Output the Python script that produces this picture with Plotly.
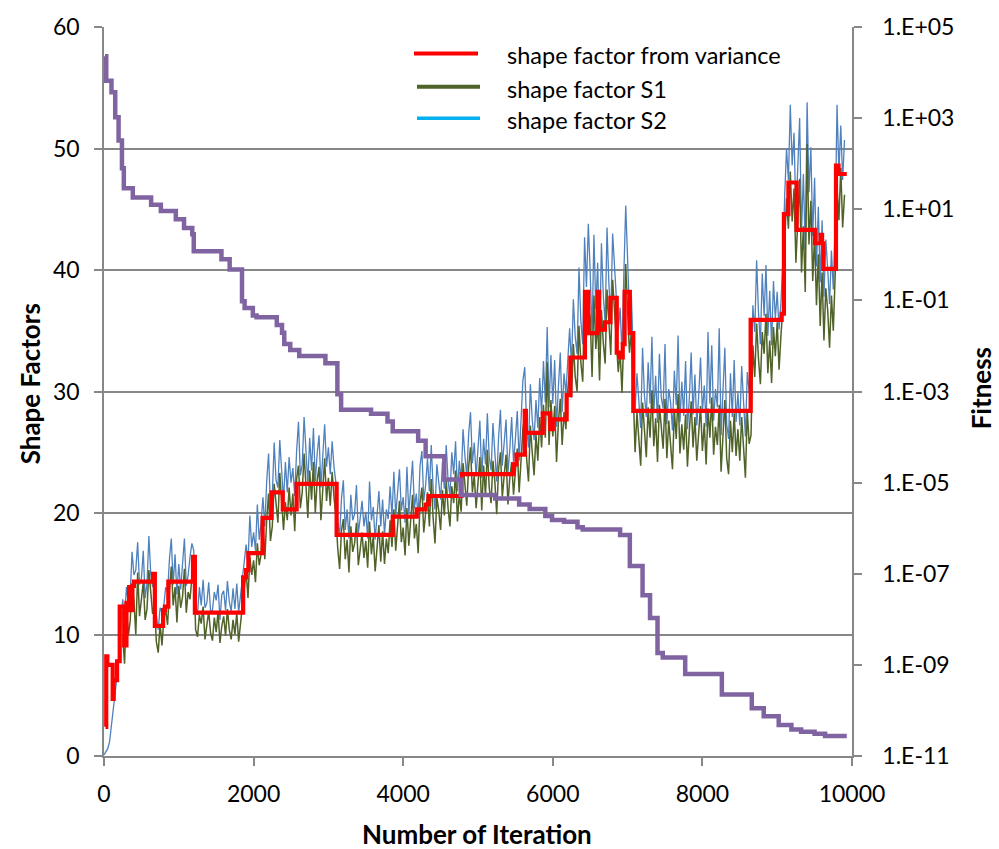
import plotly.graph_objects as go

# ---------------- data ----------------
# noisy shape factors sampled every 25 iterations
iter_s = list(range(0, 9901, 25))

s2_vals = [
    0.1, 0.3, 0.6, 1.2, 2.5, 4.0, 5.2, 6.6, 8.5, 10.5, 12.9, 11.4, 13.9, 12.6, 13.2, 16.8, 14.9, 15.3, 17.6, 14.1,
    14.6, 16.9, 13.0, 14.2, 18.1, 15.0, 13.9, 14.8, 11.6, 10.4, 12.2, 11.8, 12.4, 13.9, 13.5, 16.2, 17.9, 14.1, 16.6, 13.3,
    15.8, 13.7, 15.6, 17.9, 14.0, 14.9, 16.4, 17.5, 16.9, 12.5, 11.6, 13.9, 12.4, 14.5, 12.2, 12.6, 14.3, 11.9, 12.0, 13.5,
    12.8, 14.1, 11.2, 13.3, 13.6, 12.0, 14.4, 12.7, 11.9, 13.8, 12.1, 14.2, 11.8, 13.0, 14.6, 16.0, 17.4, 15.9, 19.8, 17.2,
    18.4, 16.9, 20.7, 17.8, 19.2, 21.3, 18.9, 22.6, 24.9, 20.6, 21.4, 25.8, 22.7, 22.1, 26.0, 23.5, 21.0, 24.2, 21.7, 24.6,
    22.5, 23.7, 21.4, 25.1, 27.5, 23.1, 24.0, 27.9, 24.8, 22.4, 26.2, 23.5, 27.0, 22.6, 24.9, 26.4, 22.1, 24.6, 27.3, 23.8,
    25.4, 23.2, 25.9, 23.8, 22.5, 19.3, 18.1, 21.2, 22.7, 18.6, 20.3, 17.9, 21.5, 19.4, 19.9, 22.3, 18.3, 19.6, 21.0, 18.9,
    20.1, 17.9, 22.6, 19.4, 20.5, 17.8, 19.6, 21.8, 18.9, 21.1, 18.2, 20.3, 19.5, 22.2, 19.7, 23.4, 19.8, 21.6, 23.6, 20.2,
    21.3, 19.2, 23.8, 19.9, 22.4, 24.3, 20.4, 21.6, 19.6, 23.9, 25.1, 21.0, 22.3, 24.5, 21.8, 25.6, 22.0, 20.3, 24.0, 22.7,
    21.1, 24.2, 22.0, 25.6, 22.7, 21.4, 25.0, 23.2, 25.9, 21.8, 24.3, 22.6, 26.9, 24.7, 23.0, 26.5, 28.3, 24.1, 25.8, 23.0,
    25.3, 27.6, 22.9, 26.1, 24.0, 28.2, 24.6, 23.5, 27.4, 24.9, 22.6, 26.2, 28.5, 23.9, 25.5, 27.7, 23.3, 25.2, 27.9, 24.1,
    26.1, 28.4, 24.3, 27.2, 30.9, 32.0, 27.1, 25.4, 30.6, 27.7, 26.0, 29.3, 27.0, 31.1, 28.2, 32.5, 29.1, 35.3, 28.7, 33.0,
    29.0, 32.6, 27.1, 30.4, 33.2, 28.3, 31.5, 29.8, 33.0, 35.2, 32.1, 37.6, 34.5, 33.1, 40.2, 35.8, 33.9, 42.7, 38.6, 43.8,
    39.8, 34.6, 42.9, 36.8, 40.6, 33.4, 42.2, 37.9, 35.6, 43.5, 38.8, 36.2, 43.0, 40.3, 38.1, 35.0, 36.9, 33.1, 39.7, 45.3,
    40.9, 36.4, 38.0, 33.1, 28.4, 31.5, 29.2, 27.0, 33.6, 29.7, 27.9, 32.4, 29.0, 34.5, 28.2, 31.3, 27.4, 33.1, 29.5, 28.6,
    33.9, 27.3, 30.2, 29.1, 26.8, 31.7, 28.9, 34.6, 27.5, 30.8, 28.0, 32.5, 26.9, 29.4, 33.2, 28.1, 31.4, 27.2, 29.6, 32.8,
    28.3, 30.5, 27.1, 34.9, 29.0, 33.8, 27.6, 30.2, 28.7, 35.2, 26.4, 29.8, 33.6, 27.3, 26.1, 31.5, 27.9, 32.6, 27.5, 29.9,
    27.2, 32.1, 28.5, 26.3, 31.6, 30.0, 30.4, 37.1, 34.9, 40.8, 36.5, 33.9, 39.7, 36.2, 40.4, 34.6, 38.3, 33.8, 39.1, 36.0,
    38.2, 35.1, 37.3, 40.7, 46.1, 50.0, 47.4, 53.6, 48.6, 51.3, 44.4, 48.2, 52.5, 43.1, 47.9, 41.6, 53.8, 46.4, 50.1, 42.8,
    47.6, 40.3, 45.2, 39.0, 44.1, 37.8, 42.5, 40.1, 37.2, 41.6, 38.4, 43.9, 53.6, 48.0, 51.9, 47.4, 50.7,
]

s1_vals = [
    None, None, None, None, None, None, None, None, None, None, 9.8, 7.6, 12.4, 9.9, 11.1, 14.2, 12.8, 10.0, 15.1, 11.5,
    12.9, 14.3, 11.2, 12.1, 15.3, 13.4, 11.7, 12.6, 9.4, 8.5, 10.9, 9.1, 11.3, 12.0, 10.8, 13.6, 15.6, 12.4, 13.9, 11.0,
    14.0, 12.2, 13.1, 15.4, 11.8, 13.5, 12.9, 14.7, 15.8, 10.4, 9.8, 11.6, 10.9, 12.3, 9.6, 10.8, 11.9, 10.1, 9.5, 11.4,
    10.2, 11.9, 9.3, 10.7, 11.5, 9.9, 12.1, 10.4, 9.6, 11.2, 10.0, 11.8, 9.4, 10.9, 12.3, 13.8, 15.2, 13.0, 16.4, 14.9,
    16.1, 14.3, 17.5, 15.7, 16.6, 18.9, 16.2, 19.4, 21.6, 17.7, 18.9, 22.4, 20.5, 19.2, 23.3, 21.0, 18.6, 20.9, 19.4, 22.1,
    19.8, 21.6, 18.5, 22.8, 23.9, 20.4, 21.7, 24.9, 22.3, 19.6, 23.5, 21.1, 24.2, 20.0, 22.7, 23.8, 19.4, 22.2, 24.5, 21.0,
    22.9, 20.6, 23.4, 21.3, 19.7, 17.1, 15.4, 18.6, 19.5, 16.2, 17.8, 15.1, 18.9, 16.8, 17.5, 19.2, 15.7, 17.0, 18.4, 16.3,
    17.7, 15.5, 19.3, 16.6, 18.1, 15.2, 17.3, 19.0, 16.0, 18.5, 15.8, 17.9, 16.7, 19.4, 17.2, 20.3, 16.9, 19.1, 21.0, 17.6,
    18.8, 16.5, 20.4, 17.3, 19.6, 21.5, 17.9, 19.1, 16.7, 20.8, 22.1, 18.4, 20.0, 21.7, 18.9, 22.8, 19.6, 17.5, 21.3, 20.2,
    18.6, 21.9, 19.8, 22.7, 20.4, 18.9, 22.2, 20.8, 23.5, 19.3, 21.6, 20.1, 24.1, 22.4, 20.6, 23.8, 25.4, 21.7, 23.1, 20.4,
    22.8, 24.6, 20.2, 23.9, 21.4, 25.2, 22.1, 20.8, 24.3, 22.6, 19.9, 23.6, 25.0, 21.3, 23.1, 24.8, 20.7, 22.9, 24.2, 21.5,
    23.4, 25.3, 21.7, 24.6, 26.9, 28.1, 24.5, 22.6, 27.2, 25.0, 23.1, 26.5, 24.3, 27.9, 25.4, 28.9, 26.2, 32.4, 25.6, 29.3,
    26.3, 28.8, 24.2, 27.5, 29.4, 25.6, 28.3, 26.9, 30.1, 31.8, 29.5, 33.9, 31.2, 30.0, 35.4, 32.4, 30.8, 37.2, 34.5, 36.9,
    36.1, 31.2, 37.9, 33.5, 35.8, 30.9, 36.7, 34.0, 32.3, 38.4, 35.1, 33.0, 39.2, 36.4, 34.5, 31.6, 33.3, 29.9, 34.7, 40.5,
    36.6, 33.2, 34.9, 29.7, 25.0, 28.3, 26.4, 23.9, 29.1, 27.0, 24.6, 28.7, 26.2, 30.1, 25.5, 27.8, 24.2, 28.9, 26.8, 25.3,
    29.4, 24.5, 27.6, 25.8, 23.6, 28.5, 26.1, 29.8, 24.9, 27.3, 25.2, 28.1, 23.8, 26.7, 29.2, 25.4, 27.9, 24.3, 26.5, 28.8,
    25.1, 27.4, 24.0, 28.6, 26.2, 29.5, 24.8, 27.1, 25.6, 28.9, 23.4, 26.6, 29.3, 24.5, 23.2, 27.6, 25.0, 28.2, 24.7, 26.9,
    24.3, 27.9, 25.4, 22.9, 28.4, 25.7, 26.4, 33.8, 31.2, 35.6, 32.7, 30.6, 34.9, 33.1, 36.4, 31.5, 34.2, 30.7, 35.3, 32.9,
    35.7, 31.8, 34.6, 36.9, 42.3, 45.9, 43.4, 48.1, 44.0, 46.7, 40.6, 44.8, 47.5, 39.8, 43.6, 38.2, 50.4, 42.1, 45.7, 39.1,
    42.9, 37.1, 41.3, 35.4, 39.8, 34.2, 38.5, 36.7, 33.6, 37.9, 35.0, 39.6, 46.8, 44.1, 48.4, 43.5, 46.2,
]

# shape factor from variance (step changes)
iter_var = [20, 30, 45, 116, 130, 175, 210, 270, 300, 335, 355, 380, 400, 655, 680, 790, 815, 860,
            1190, 1215, 1860, 1900, 1930, 2120, 2240, 2390, 2575, 3110, 3860, 4180, 4300, 4340,
            4780, 5470, 5515, 5625, 5640, 5865, 5965, 6000, 6185, 6235, 6430, 6475, 6600, 6620,
            6697, 6770, 6855, 6895, 6935, 6960, 7030, 7076, 8645, 9060, 9090, 9150, 9260, 9505,
            9580, 9600, 9616, 9786, 9820, 9930]
sf_var = [2.4, 8.2, 7.5, 4.7, 6.25, 7.8, 12.3, 9.1, 12.6, 13.9, 12.0, 14.0, 14.35, 15.0, 10.7, 12.0, 12.3, 14.35,
          16.4, 11.8, 14.7, 15.3, 16.7, 19.6, 21.7, 20.3, 22.4, 18.2, 19.7, 20.3, 20.7, 21.4,
          23.2, 24.0, 24.8, 28.4, 26.6, 28.2, 26.9, 27.7, 29.7, 32.8, 38.2, 34.8, 38.2, 35.1,
          35.7, 37.7, 33.2, 32.8, 33.9, 38.2, 34.8, 28.4, 35.9, 36.4, 44.6, 47.2, 43.3, 42.2,
          42.9, 42.2, 40.1, 48.6, 47.9, 47.9]

# fitness (log10 of value), step-wise decreasing
iter_fit = [13, 30, 100, 150, 195, 240, 265, 385, 630, 760, 960, 1070, 1180, 1200, 1570, 1680,
            1845, 1880, 1990, 2040, 2310, 2380, 2410, 2490, 2610, 2960, 3120, 3170, 3570, 3790,
            3860, 4200, 4300, 4550, 4770, 5230, 5550, 5690, 5900, 5990, 6150, 6330, 6400, 6900,
            7030, 7200, 7300, 7400, 7470, 7770, 8260, 8660, 8820, 9020, 9190, 9320, 9500, 9640, 9930]
log_fit = [4.36, 3.82, 3.57, 3.02, 2.51, 1.90, 1.46, 1.26, 1.10, 0.96, 0.78, 0.59, 0.45, 0.08, -0.10, -0.32,
           -1.02, -1.17, -1.33, -1.37, -1.54, -1.71, -1.96, -2.09, -2.22, -2.38, -3.06, -3.40, -3.49, -3.66,
           -3.87, -4.08, -4.42, -4.93, -5.27, -5.35, -5.48, -5.58, -5.73, -5.82, -5.86, -5.98, -6.03, -6.15,
           -6.83, -7.47, -7.97, -8.74, -8.84, -9.20, -9.65, -9.95, -10.13, -10.32, -10.42, -10.47, -10.51, -10.56, -10.56]
fitness = [10 ** v for v in log_fit]

x_ticks = [0, 2000, 4000, 6000, 8000, 10000]
x_labels = ["0", "2000", "4000", "6000", "8000", "10000"]
y_ticks = [0, 10, 20, 30, 40, 50, 60]
fit_ticks = [1e5, 1e3, 1e1, 1e-1, 1e-3, 1e-5, 1e-7, 1e-9, 1e-11]
fit_labels = ["1.E+05", "1.E+03", "1.E+01", "1.E-01", "1.E-03", "1.E-05", "1.E-07", "1.E-09", "1.E-11"]
legend_names = ["shape factor from variance", "shape factor S1", "shape factor S2"]
legend_colors = ["#FF0000", "#4F6228", "#00B0F0"]

# ---------------- figure ----------------
FONT = "Lato"
GRID = "#878787"

fig = go.Figure()
fig.add_trace(go.Scatter(x=iter_s, y=s2_vals, mode="lines", line=dict(color="#4F81BD", width=1.3),
                         showlegend=False))
fig.add_trace(go.Scatter(x=iter_s, y=s1_vals, mode="lines", line=dict(color="#4F6228", width=1.5),
                         showlegend=False))
fig.add_trace(go.Scatter(x=iter_var, y=sf_var, mode="lines", line=dict(color="#FF0000", width=4.2, shape="hv"),
                         showlegend=False))
fig.add_trace(go.Scatter(x=iter_fit, y=fitness, mode="lines", yaxis="y2",
                         line=dict(color="#8064A2", width=4.5, shape="hv"), showlegend=False))

L0, PW, T0, PH = 104.0, 748.0, 20.7, 735.0


def px(xp):
    return (xp - L0) / PW


def py(yp):
    return (T0 + PH - yp) / PH


shapes = []
annotations = []
leg_y = [47.3, 81.0, 112.7]
leg_x = [(414, 478), (417, 480), (417, 480)]
leg_w = [4.0, 4.0, 3.5]
for name, col, yy, (xa, xb), w in zip(legend_names, legend_colors, leg_y, leg_x, leg_w):
    shapes.append(dict(type="line", xref="paper", yref="paper", x0=px(xa), x1=px(xb), y0=py(yy), y1=py(yy),
                       line=dict(color=col, width=w)))
    annotations.append(dict(xref="paper", yref="paper", x=px(505), y=py(yy + 2), xanchor="left", yanchor="middle",
                            text=name, showarrow=False, font=dict(family=FONT, size=23.5, color="#000")))

TITLE_FONT = dict(family=FONT, size=26, color="#000")
annotations.append(dict(xref="paper", yref="paper", x=px(30), y=py(381), text="<b>Shape Factors</b>",
                        textangle=-90, showarrow=False, xanchor="center", yanchor="middle", font=TITLE_FONT))
annotations.append(dict(xref="paper", yref="paper", x=px(981), y=py(385), text="<b>Fitness</b>",
                        textangle=-90, showarrow=False, xanchor="center", yanchor="middle", font=TITLE_FONT))
annotations.append(dict(xref="paper", yref="paper", x=px(477), y=py(834), text="<b>Number of Iteration</b>",
                        showarrow=False, xanchor="center", yanchor="middle", font=TITLE_FONT))

fig.update_layout(
    width=999, height=849,
    margin=dict(l=104, r=147, t=21, b=93, pad=0),
    paper_bgcolor="white", plot_bgcolor="white",
    showlegend=False,
    font=dict(family=FONT, size=23, color="#000"),
    xaxis=dict(range=[0, 10000], tickvals=x_ticks, ticktext=x_labels, ticks="outside", ticklen=8,
               tickcolor=GRID, tickwidth=1.5,
               showline=True, linecolor=GRID, linewidth=1.5, showgrid=False, zeroline=False,
               ticklabelstandoff=9, tickfont=dict(family=FONT, size=23)),
    yaxis=dict(range=[0, 60], tickvals=y_ticks, ticks="outside", ticklen=8, tickcolor=GRID, tickwidth=1.5,
               showline=True, linecolor=GRID, linewidth=1.5, showgrid=True, gridcolor=GRID, gridwidth=1.5,
               zeroline=False, ticklabelstandoff=10, tickfont=dict(family=FONT, size=23)),
    yaxis2=dict(type="log", range=[-11, 5], overlaying="y", side="right", tickvals=fit_ticks,
                ticktext=fit_labels, ticks="outside", ticklen=8, tickcolor=GRID, tickwidth=1.5,
                showline=True, linecolor=GRID, linewidth=1.5, showgrid=False, zeroline=False,
                ticklabelstandoff=16, tickfont=dict(family=FONT, size=23)),
    shapes=shapes,
    annotations=annotations,
)

fig.write_html("out.html")
